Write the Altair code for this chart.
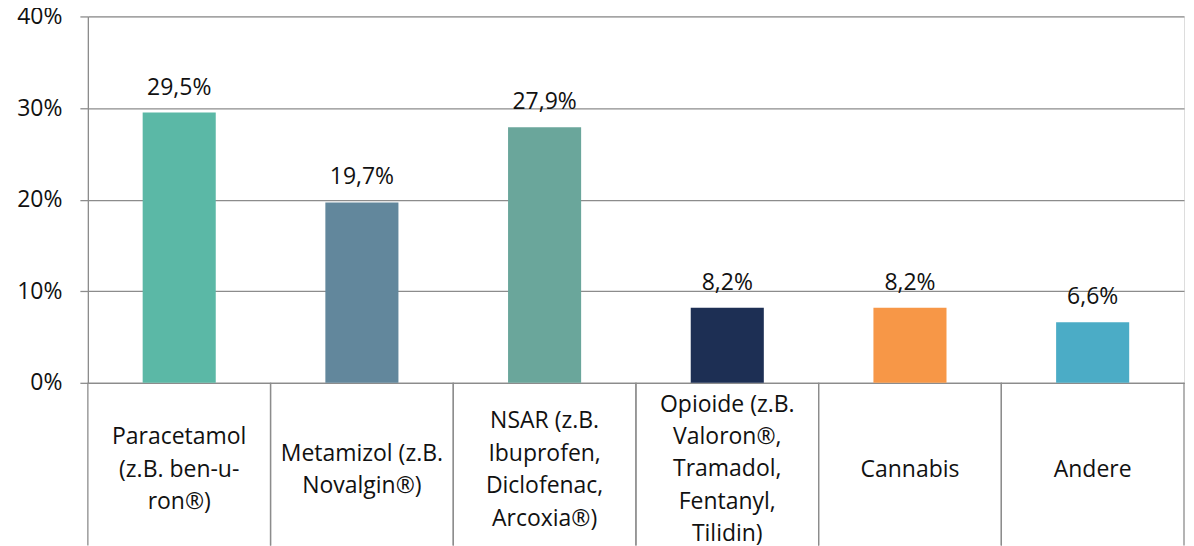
import altair as alt
import pandas as pd

categories = [
    "Paracetamol|(z.B. ben-u-|ron®)",
    "Metamizol (z.B.|Novalgin®)",
    "NSAR (z.B.|Ibuprofen,|Diclofenac,|Arcoxia®)",
    "Opioide (z.B.|Valoron®,|Tramadol,|Fentanyl,|Tilidin)",
    "Cannabis",
    "Andere",
]
values = [29.5, 19.7, 27.9, 8.2, 8.2, 6.6]
colors = ["#5BB8A6", "#62879C", "#6AA69B", "#1D2F54", "#F79747", "#4BACC6"]
y_ticks = [0, 10, 20, 30, 40]

df = pd.DataFrame({
    "cat": categories,
    "val": values,
    "lbl": [f"{v:.1f}".replace(".", ",") + "%" for v in values],
})

W, H = 1098, 367
BELOW = 163
FONT = "Open Sans"
FS = 23
LH = 32.5
GRAY = "#8C8C8C"
TXT = "#111111"

NB = "\u00a0"
nlines = "length(split(datum.label, '|'))"
label_expr = f"split(({nlines} <= 2 ? '{NB}|' : '') + datum.label, '|')"
nval = "length(split(datum.value, '|'))"

x_enc = alt.X(
    "cat:N",
    sort=None,
    scale=alt.Scale(paddingInner=0, paddingOuter=0),
    axis=alt.Axis(
        title=None,
        labelExpr=label_expr,
        labelAngle=0,
        labelOverlap=False,
        labelLimit=400,
        labelBaseline={
            "condition": [
                {"test": f"{nval} == 5", "value": "line-bottom"},
                {"test": f"{nval} % 2 == 1", "value": "line-top"},
            ],
            "value": "middle",
        },
        labelPadding=87 - 1.5 * LH,
        labelLineHeight=LH,
        labelFont=FONT,
        labelFontSize=FS,
        labelColor=TXT,
        ticks=False,
        tickSize=0,
        grid=False,
        domainColor=GRAY,
        domainWidth=1.3,
    ),
)
y_enc = alt.Y(
    "val:Q",
    scale=alt.Scale(domain=[0, 40], nice=False),
    axis=alt.Axis(
        title=None,
        values=y_ticks,
        labelExpr="datum.value + '%'",
        labelFont=FONT,
        labelFontSize=FS,
        labelColor=TXT,
        labelPadding=18,
        tickSize=8,
        tickColor=GRAY,
        tickWidth=1.3,
        grid=True,
        gridColor=GRAY,
        gridWidth=1.3,
        domainColor=GRAY,
        domainWidth=1.3,
    ),
)

base = alt.Chart(df)

bars = base.mark_bar(width=alt.RelativeBandSize(0.4)).encode(
    x=x_enc,
    y=y_enc,
    color=alt.Color("cat:N", sort=None, scale=alt.Scale(domain=categories, range=colors), legend=None),
)

texts = base.mark_text(baseline="middle", dy=-25, font=FONT, fontSize=FS, color=TXT).encode(
    x=alt.X("cat:N", sort=None),
    y=alt.Y("val:Q"),
    text="lbl:N",
)

rules_left = base.mark_rule(color=GRAY, strokeWidth=1.3).encode(
    x=alt.X("cat:N", sort=None, bandPosition=0),
    y=alt.value(H),
    y2=alt.value(H + BELOW),
)
rules_right = base.mark_rule(color=GRAY, strokeWidth=1.3).encode(
    x=alt.X("cat:N", sort=None, bandPosition=1),
    y=alt.value(H),
    y2=alt.value(H + BELOW),
)

chart = alt.layer(bars, texts, rules_left, rules_right).properties(
    width=W,
    height=H,
    autosize=alt.AutoSizeParams(type="none"),
    padding={"left": 80, "top": 8, "right": 2, "bottom": BELOW},
).configure_view(strokeWidth=0).configure(font=FONT)

chart.save("out.html", embed_options={"renderer": "svg", "actions": False})
